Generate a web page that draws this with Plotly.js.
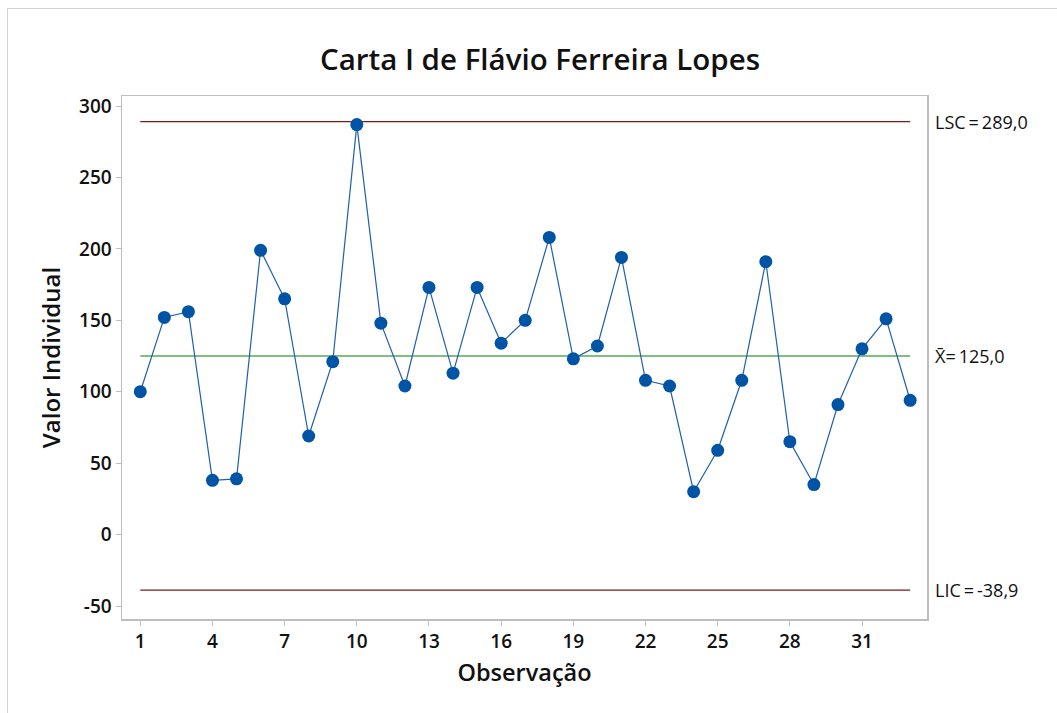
<!DOCTYPE html>
<html>
<head>
<meta charset="utf-8">
<script src="https://cdn.plot.ly/plotly-3.0.1.min.js"></script>
<style>
html,body{margin:0;padding:0;background:#fff;}
#wrap{position:relative;width:1057px;height:713px;overflow:hidden;}
#chart{position:absolute;left:0;top:0;width:1057px;height:713px;}
#frame{position:absolute;left:7px;top:8px;width:1100px;height:800px;border-left:1px solid #d4d4d4;border-top:1px solid #d4d4d4;pointer-events:none;}
</style>
</head>
<body>
<div id="wrap"><div id="chart"></div><div id="frame"></div></div>
<script>
const observations = Array.from({length: 33}, (_, i) => i + 1);
const values = [100, 152, 156, 38, 39, 199, 165, 69, 121, 287, 148, 104, 173, 113, 173, 134, 150,
                208, 123, 132, 194, 108, 104, 30, 59, 108, 191, 65, 35, 91, 130, 151, 94];
const xTicks = [1, 4, 7, 10, 13, 16, 19, 22, 25, 28, 31];
const yTicks = [-50, 0, 50, 100, 150, 200, 250, 300];
const LSC = 289.0;
const CENTER = 125.0;
const LIC = -38.9;
const limitLabels = ["LSC\u2009=\u2009289,0", "X\u0304=\u2009125,0", "LIC\u2009=\u2009-38,9"];

const FONT = '"Open Sans", "Noto Sans", sans-serif';
const first = observations[0], last = observations[observations.length - 1];

const traces = [
  {x: [first, last], y: [LSC, LSC], mode: 'lines', line: {color: '#7a1a1a', width: 1.2}, hoverinfo: 'skip'},
  {x: [first, last], y: [LIC, LIC], mode: 'lines', line: {color: '#7a1a1a', width: 1.2}, hoverinfo: 'skip'},
  {x: [first, last], y: [CENTER, CENTER], mode: 'lines', line: {color: '#008000', width: 1.2}, hoverinfo: 'skip'},
  {x: observations, y: values, mode: 'lines+markers',
   line: {color: '#1f5fad', width: 1.2},
   marker: {color: '#0054a6', size: 13}}
];

const annLevels = [LSC, CENTER, LIC];
const annotations = annLevels.map((lv, i) => ({
  xref: 'paper', yref: 'y', x: 1.007, y: lv, xanchor: 'left', yanchor: 'middle',
  text: limitLabels[i], showarrow: false,
  font: {family: FONT, size: 18, color: '#111'}
}));

const layout = {
  width: 1057, height: 713,
  margin: {l: 122, r: 130, t: 96, b: 94},
  paper_bgcolor: '#fff', plot_bgcolor: '#fff',
  showlegend: false,
  title: {text: 'Carta I de Flávio Ferreira Lopes', x: 540/1057, xanchor: 'center', xref: 'container',
          y: 1 - 60/713, yanchor: 'middle', yref: 'container',
          font: {family: FONT, size: 29.5, weight: 600, color: '#111'}},
  xaxis: {range: [0.24, 33.7], tickvals: xTicks, ticktext: xTicks.map(String),
          showgrid: false, zeroline: false, showline: true, mirror: true,
          linecolor: '#bdbdbd', linewidth: 1.5, ticks: 'outside', ticklen: 5, tickcolor: '#bdbdbd',
          tickfont: {family: FONT, size: 19, weight: 600, color: '#111'},
          title: {text: 'Observação', standoff: 11, font: {family: FONT, size: 23.5, weight: 600, color: '#111'}}},
  yaxis: {range: [-59.1, 307], tickvals: yTicks, ticktext: yTicks.map(String),
          showgrid: false, zeroline: false, showline: true, mirror: true,
          linecolor: '#bdbdbd', linewidth: 1.5, ticks: 'outside', ticklen: 5, tickcolor: '#bdbdbd',
          tickfont: {family: FONT, size: 19, weight: 600, color: '#111'},
          title: {text: 'Valor Individual', standoff: 11, font: {family: FONT, size: 24, weight: 600, color: '#111'}}},
  annotations: annotations
};

Plotly.newPlot('chart', traces, layout, {displayModeBar: false, staticPlot: true});
</script>
</body>
</html>
